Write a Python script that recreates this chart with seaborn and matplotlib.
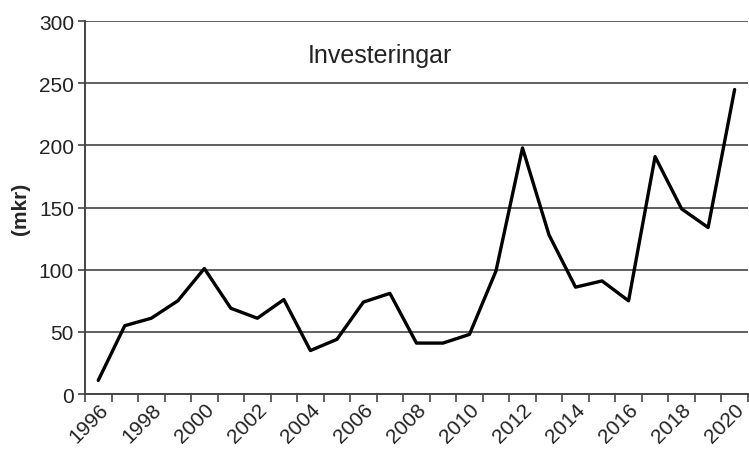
import matplotlib
matplotlib.use("Agg")
import matplotlib.pyplot as plt
import seaborn as sns
import numpy as np
import pandas as pd

years = list(range(1996, 2021))
values = [11, 55, 61, 75, 101, 69, 61, 76, 35, 44, 74, 81, 41, 41, 48,
          99, 198, 128, 86, 91, 75, 191, 149, 134, 245]
y_ticks = [0, 50, 100, 150, 200, 250, 300]
x_labels = [str(y) for y in years if y % 2 == 0]
title = "Investeringar"
ylabel = "(mkr)"

sns.set_theme(style="white")
plt.rcParams['font.family'] = ['Liberation Sans', 'DejaVu Sans']

fig = plt.figure(figsize=(7.49, 4.52), dpi=100)
ax = fig.add_axes([0.1135, 0.126, 0.885, 0.825])

df = pd.DataFrame({"year": years, "value": values})
sns.lineplot(data=df, x="year", y="value", ax=ax, color="black", linewidth=2.4)

ax.set_xlim(1995.5, 2020.5)
ax.set_ylim(0, 300)
ax.set_yticks(y_ticks)
ax.set_yticklabels([str(v) for v in y_ticks], fontsize=15, color="#222222")
for v in y_ticks:
    ax.axhline(v, color="#444444", linewidth=1.2, zorder=0)

major = [y for y in years if y % 2 == 0]
ax.set_xticks(major)
ax.set_xticklabels(x_labels, rotation=45, ha="right", rotation_mode="anchor",
                   fontsize=15, color="#222222")
ax.set_xticks(np.arange(1995.5, 2021.0, 1.0), minor=True)
ax.tick_params(axis="x", which="major", length=0, pad=4)
ax.tick_params(axis="x", which="minor", length=6, width=1.2, color="#444444", direction="out", bottom=True)
ax.tick_params(axis="y", which="major", length=5, width=1.2, color="#444444", direction="out", left=True, pad=3)

for s in ["top", "right"]:
    ax.spines[s].set_visible(False)
for s in ["left", "bottom"]:
    ax.spines[s].set_color("#444444")
    ax.spines[s].set_linewidth(1.4)

ax.set_xlabel("")
ax.set_ylabel(ylabel, fontsize=15, fontweight="bold", labelpad=6)
ax.text(0.445, 273, title, transform=ax.get_yaxis_transform(), fontsize=18,
        ha="center", va="center", color="#222222")
fig.savefig("out.png", dpi=100)
